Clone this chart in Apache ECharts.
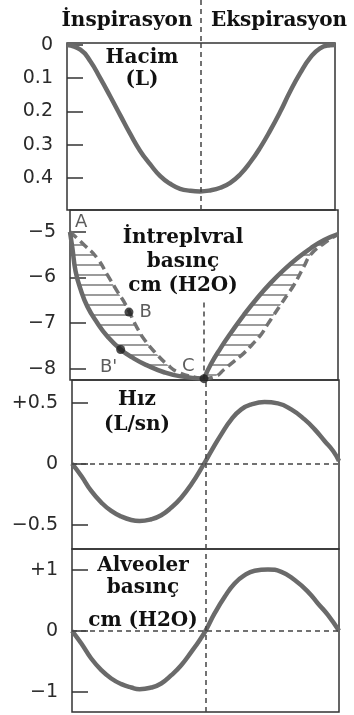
<!DOCTYPE html>
<html>
<head>
<meta charset="utf-8">
<script src="https://cdn.jsdelivr.net/npm/echarts@6/dist/echarts.min.js"></script>
<style>
  html, body { margin: 0; padding: 0; background: #fff; }
  #main { width: 354px; height: 715px; }
</style>
</head>
<body>
<div id="main"></div>
<script>
var chartDom = document.getElementById('main');
var myChart = echarts.init(chartDom);
var option;

// ---- data (x = fraction of one breath cycle) ----
var timeVol = [0, 0.05, 0.087, 0.124, 0.162, 0.199, 0.236, 0.273, 0.31, 0.348, 0.385, 0.422, 0.46, 0.497,
    0.534, 0.572, 0.609, 0.646, 0.683, 0.721, 0.758, 0.795, 0.832, 0.87, 0.907, 0.944, 0.981, 1];
var volume = [0, 0.014, 0.049, 0.1, 0.156, 0.212, 0.268, 0.319, 0.359, 0.395, 0.418, 0.433, 0.439, 0.441,
    0.438, 0.43, 0.415, 0.39, 0.354, 0.309, 0.258, 0.202, 0.141, 0.085, 0.039, 0.01, 0.001, 0];
var volTicks = [0, 0.1, 0.2, 0.3, 0.4];

// intrapleural pressure, solid curve
var timeInsp = [0, 0.009, 0.021, 0.04, 0.065, 0.102, 0.139, 0.189, 0.239, 0.288, 0.351, 0.413, 0.5];
var pleuralInsp = [-5.0, -5.36, -5.87, -6.27, -6.64, -7.0, -7.29, -7.58, -7.78, -7.93, -8.08, -8.17, -8.22];
var timeExp = [0.5, 0.525, 0.562, 0.6, 0.649, 0.699, 0.749, 0.799, 0.848, 0.898, 0.948, 1];
var pleuralExp = [-8.22, -7.91, -7.55, -7.22, -6.82, -6.45, -6.12, -5.83, -5.58, -5.36, -5.18, -5.05];
// intrapleural pressure, dashed curve
var timeDashInsp = [0, 0.052, 0.102, 0.139, 0.177, 0.208, 0.251, 0.282, 0.32, 0.363, 0.407, 0.475, 0.5];
var dashInsp = [-5.0, -5.28, -5.58, -5.94, -6.31, -6.6, -7.11, -7.4, -7.66, -7.91, -8.09, -8.2, -8.22];
var timeDashExp = [0.5, 0.544, 0.575, 0.612, 0.649, 0.68, 0.712, 0.736, 0.761, 0.786, 0.811, 0.836, 0.873, 0.898, 0.948, 1];
var dashExp = [-8.22, -8.17, -8.02, -7.84, -7.66, -7.47, -7.26, -7.04, -6.82, -6.6, -6.38, -6.16, -5.76, -5.5, -5.25, -5.05];
var pressTicks = [-5, -6, -7, -8];

// labelled points
var pointNames = ['A', 'B', "B'", 'C'];
var pointX = [0, 0.22, 0.189, 0.5];
var pointY = [-5.0, -6.76, -7.58, -8.22];

// flow
var timeFlow = [0, 0.035, 0.072, 0.11, 0.147, 0.185, 0.222, 0.253, 0.297, 0.334, 0.372, 0.409, 0.447, 0.491,
    0.522, 0.559, 0.597, 0.634, 0.672, 0.721, 0.771, 0.821, 0.871, 0.909, 0.946, 0.978, 1];
var flow = [0, -0.101, -0.224, -0.319, -0.388, -0.434, -0.462, -0.47, -0.456, -0.423, -0.36, -0.279, -0.169, -0.014,
    0.104, 0.24, 0.363, 0.445, 0.486, 0.505, 0.494, 0.445, 0.363, 0.281, 0.186, 0.104, 0.022];
var flowTicks = [0.5, 0, -0.5];

// alveolar pressure
var timeAlv = [0, 0.035, 0.072, 0.11, 0.147, 0.185, 0.222, 0.253, 0.297, 0.334, 0.372, 0.409, 0.447, 0.478, 0.5,
    0.534, 0.572, 0.609, 0.647, 0.684, 0.734, 0.784, 0.834, 0.884, 0.921, 0.959, 1];
var alveolar = [0, -0.208, -0.454, -0.645, -0.781, -0.874, -0.929, -0.956, -0.929, -0.863, -0.727, -0.563, -0.344, -0.153, 0,
    0.284, 0.557, 0.776, 0.913, 0.984, 1.005, 0.967, 0.831, 0.639, 0.448, 0.257, 0];
var alvTicks = [1, 0, -1];

function zip(xs, ys) {
    return xs.map(function (x, i) { return [x, ys[i]]; });
}

// the two hatched lobes between solid and dashed curves
var lobeInsp = zip(timeInsp, pleuralInsp).concat(zip(timeDashInsp, dashInsp).reverse());
var lobeExp = zip(timeExp, pleuralExp).concat(zip(timeDashExp, dashExp).reverse());

var curveColor = '#6a6a6a';
var inkColor = '#333';
var serif = 'DejaVu Serif';
var sans = 'DejaVu Sans';
var smoothness = 0.5;

function fmtTick(signed) {
    return function (v) {
        var s = String(Math.abs(v));
        if (v < 0) return '\u2212' + s;
        if (v > 0 && signed) return '+' + s;
        return s;
    };
}

// horizontal-line hatch pattern
function hatchPattern() {
    var c = document.createElement('canvas');
    c.width = 6;
    c.height = 10;
    var ctx = c.getContext('2d');
    ctx.strokeStyle = '#8a8a8a';
    ctx.lineWidth = 1.7;
    ctx.beginPath();
    ctx.moveTo(0, 5);
    ctx.lineTo(6, 5);
    ctx.stroke();
    return c;
}
var pattern = hatchPattern();

var grids = [
    { left: 67, top: 43, width: 268, height: 167 },
    { left: 70, top: 210, width: 268, height: 170 },
    { left: 72, top: 380, width: 267, height: 169 },
    { left: 72, top: 549, width: 267, height: 163 }
];
grids.forEach(function (g) {
    g.show = true;
    g.borderColor = inkColor;
    g.borderWidth = 1.5;
    g.backgroundColor = 'transparent';
    g.containLabel = false;
});

function yAxisFor(idx, min, max, ticks, signed, inverse) {
    return {
        type: 'value',
        gridIndex: idx,
        min: min,
        max: max,
        inverse: !!inverse,
        axisLine: { show: false },
        splitLine: { show: false },
        axisTick: {
            show: true,
            inside: true,
            length: 16,
            customValues: ticks,
            lineStyle: { color: inkColor, width: 1.5 }
        },
        axisLabel: {
            customValues: ticks,
            margin: 14,
            color: '#2a2a2a',
            fontFamily: sans,
            fontSize: 19,
            formatter: fmtTick(signed)
        }
    };
}

var dashStyle = { type: [5, 4], color: '#444', width: 1.5 };

function midLine(extra) {
    return {
        symbol: 'none',
        silent: true,
        label: { show: false },
        lineStyle: dashStyle,
        data: extra
    };
}

function textBlock(id, x, y, text, lh) {
    return {
        type: 'text',
        id: id,
        x: x,
        y: y,
        z: 50,
        style: {
            text: text,
            align: 'center',
            textAlign: 'center',
            verticalAlign: 'top',
            fill: '#111',
            font: 'bold 20px "' + serif + '"',
            lineHeight: lh || 22
        }
    };
}

var labelPos = {
    'A': { position: 'right', offset: [0, -10] },
    'B': { position: 'right', offset: [1, 0] },
    "B'": { position: 'bottom', offset: [-12, -1] },
    'C': { position: 'left', offset: [0, -12] }
};

var dashedCurve = { color: '#737373', width: 3.5, type: [9, 5] };
var solidCurve = { color: curveColor, width: 4.5 };

function curve(name, grid, xs, ys, style, z) {
    return {
        name: name,
        type: 'line',
        xAxisIndex: grid, yAxisIndex: grid,
        smooth: smoothness,
        symbol: 'none',
        z: z || 2,
        lineStyle: style,
        data: zip(xs, ys)
    };
}

var volSeries = curve('Hacim', 0, timeVol, volume, solidCurve);
volSeries.markLine = midLine([{ xAxis: 0.5 }]);
var flowSeries = curve('H\u0131z', 2, timeFlow, flow, solidCurve);
flowSeries.markLine = midLine([{ xAxis: 0.5 }, { yAxis: 0 }]);
var alvSeries = curve('Alveoler', 3, timeAlv, alveolar, solidCurve);
alvSeries.markLine = midLine([{ xAxis: 0.5 }, { yAxis: 0 }]);

option = {
    animation: false,
    grid: grids,
    xAxis: [0, 1, 2, 3].map(function (i) {
        return { type: 'value', gridIndex: i, min: 0, max: 1, show: false };
    }),
    yAxis: [
        yAxisFor(0, -0.006, 0.497, volTicks, false, true),
        yAxisFor(1, -8.25, -4.52, pressTicks, false),
        yAxisFor(2, -0.70, 0.686, flowTicks, true),
        yAxisFor(3, -1.33, 1.34, alvTicks, true)
    ],
    graphic: [
        textBlock('hIns', 127, 10, '\u0130nspirasyon'),
        textBlock('hEks', 279, 10, 'Ekspirasyon'),
        textBlock('t1', 142, 47, 'Hacim\n(L)'),
        textBlock('t2', 183, 226, '\u0130ntreplvral\nbas\u0131n\u00e7\ncm (H2O)', 24),
        textBlock('t3', 137, 387, 'H\u0131z\n(L/sn)', 25),
        textBlock('t4', 143, 555, 'Alveoler\nbas\u0131n\u00e7', 22),
        textBlock('t5', 143, 610, 'cm (H2O)')
    ],
    series: [
        volSeries,
        {
            name: 'hatch',
            type: 'custom',
            xAxisIndex: 1, yAxisIndex: 1,
            silent: true,
            z: 1,
            data: [[0, -6], [1, -6]],
            renderItem: function (params, api) {
                var lobe = api.value(0) === 0 ? lobeInsp : lobeExp;
                var pts = lobe.map(function (p) { return api.coord(p); });
                return {
                    type: 'polygon',
                    shape: { points: pts },
                    style: { fill: { image: pattern, repeat: 'repeat' }, stroke: null }
                };
            },
            markLine: midLine([[{ coord: [0.5, -6.55] }, { coord: [0.5, -8.25] }]])
        },
        curve('dashInsp', 1, timeDashInsp, dashInsp, dashedCurve, 3),
        curve('dashExp', 1, timeDashExp, dashExp, dashedCurve, 3),
        curve('pleuralInsp', 1, timeInsp, pleuralInsp, solidCurve, 4),
        curve('pleuralExp', 1, timeExp, pleuralExp, solidCurve, 4),
        {
            name: 'points',
            type: 'scatter',
            xAxisIndex: 1, yAxisIndex: 1,
            z: 6,
            silent: true,
            itemStyle: { color: '#1e1e1e' },
            data: pointNames.map(function (n, i) {
                var lp = labelPos[n];
                return {
                    name: n,
                    value: [pointX[i], pointY[i]],
                    symbolSize: n === 'A' ? 0 : 9,
                    label: {
                        show: true,
                        formatter: n,
                        position: lp.position,
                        offset: lp.offset,
                        color: '#333',
                        fontFamily: sans,
                        fontSize: 18
                    }
                };
            })
        },
        flowSeries,
        alvSeries
    ]
};

option && myChart.setOption(option);

// dashed divider above the first panel, between the two headers
var mid = myChart.convertToPixel({ gridIndex: 0 }, [0.5, 0]);
myChart.setOption({
    graphic: [{
        type: 'line',
        id: 'topDivider',
        silent: true,
        shape: { x1: mid[0], y1: 0, x2: mid[0], y2: 43 },
        style: { stroke: '#444', lineWidth: 1.5, lineDash: [5, 4] }
    }]
});
</script>
</body>
</html>
